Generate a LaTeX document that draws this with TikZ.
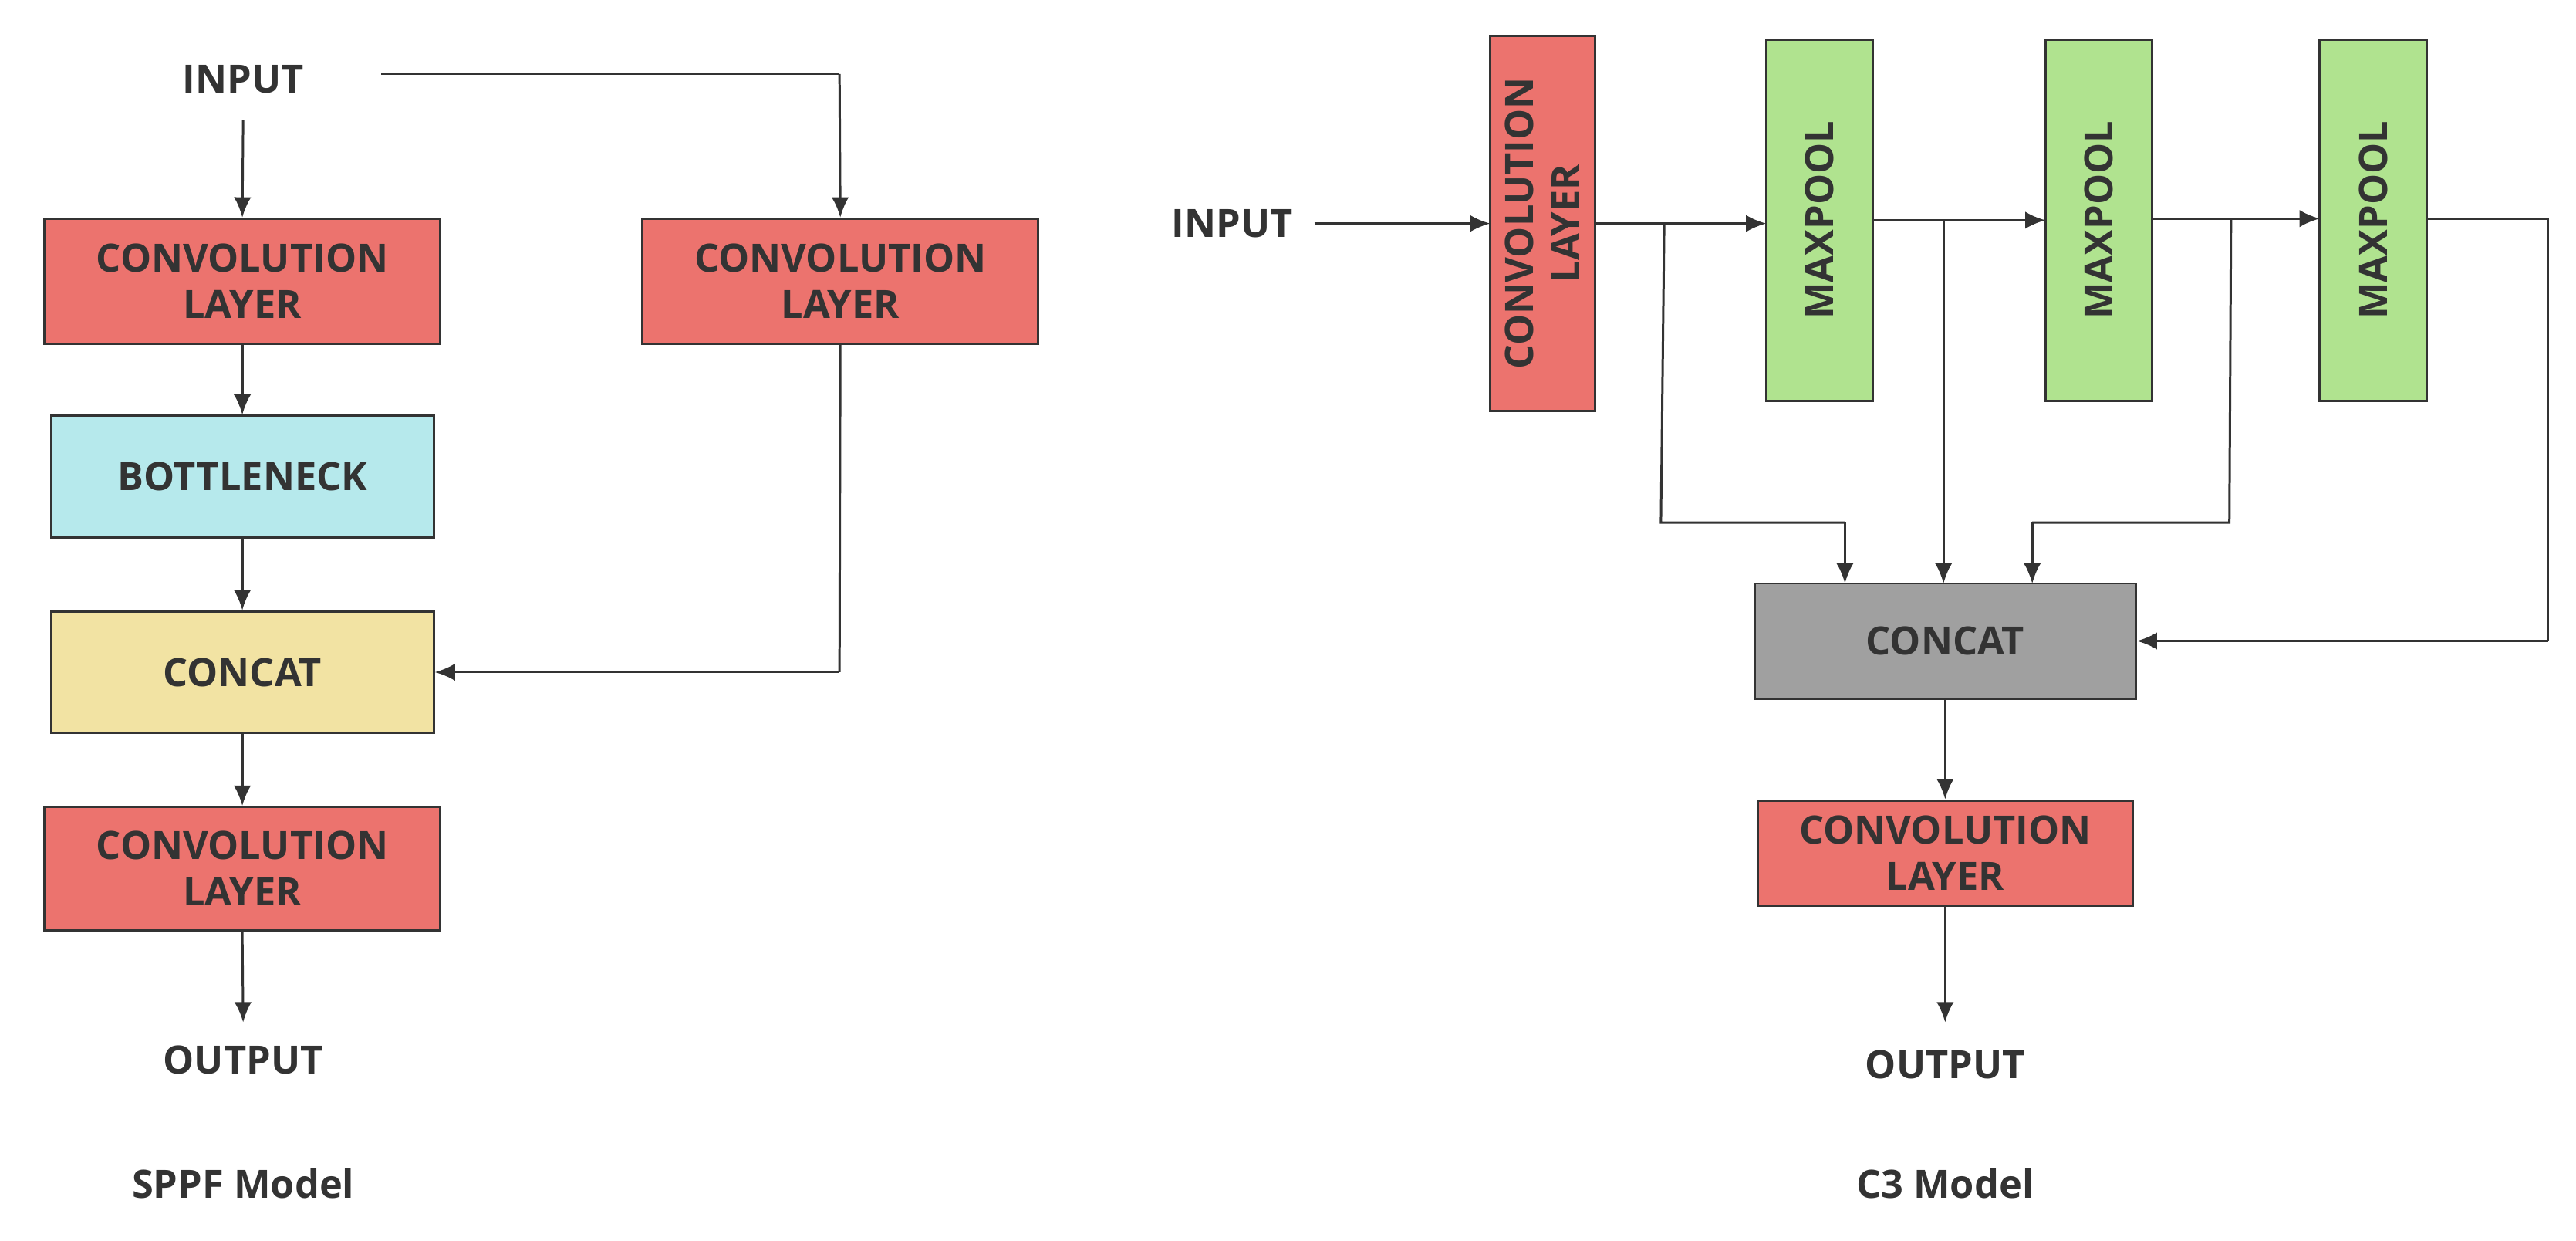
\documentclass[tikz,border=0pt]{standalone}
\usepackage{fontspec}
\setmainfont{Open Sans}
\usetikzlibrary{arrows.meta}
\definecolor{tx}{HTML}{333333}
\definecolor{cred}{HTML}{EC736E}
\definecolor{ccyan}{HTML}{B6E9EC}
\definecolor{cyel}{HTML}{F2E3A3}
\definecolor{cgreen}{HTML}{B0E38F}
\definecolor{cgray}{HTML}{A0A0A0}
\begin{document}
\begin{tikzpicture}[x=0.02cm,y=-0.02cm,
  font=\fontsize{13.5}{16}\selectfont\bfseries, text=tx,
  box/.style={draw=tx,line width=0.8pt,align=center,inner sep=0pt},
  lbl/.style={inner sep=1pt},
  arr/.style={draw=tx,line width=0.8pt,-{Latex[length=7pt,width=6pt]}},
  ln/.style={draw=tx,line width=0.8pt}]
\useasboundingbox (0,0) rectangle (1568,755);
% left
\node[lbl] (in1) at (148,48) {INPUT};
\node[box,fill=cred,minimum width=241\pgflinewidth,text width=0pt] at (-999,-999) {};
\node[box,fill=cred,minimum width=4.82cm,minimum height=1.52cm] (c1) at (147.5,171) {CONVOLUTION\\LAYER};
\node[box,fill=cred,minimum width=4.82cm,minimum height=1.52cm] (c2) at (511.5,171) {CONVOLUTION\\LAYER};
\node[box,fill=ccyan,minimum width=4.66cm,minimum height=1.48cm] (bn) at (147.5,290) {BOTTLENECK};
\node[box,fill=cyel,minimum width=4.66cm,minimum height=1.48cm] (cc1) at (147.5,409) {CONCAT};
\node[box,fill=cred,minimum width=4.82cm,minimum height=1.5cm] (c3) at (147.5,528.5) {CONVOLUTION\\LAYER};
\node[lbl] (out1) at (148,645) {OUTPUT};
\node[lbl] (t1) at (148,720) {SPPF Model};
\coordinate (s1) at (232,45);
\coordinate (e1) at (511,45);
\coordinate (e2) at (511,409);
\draw[arr] (in1.south |- 0,73) -- (c1.north);
\draw[ln] (s1) -- (e1);
\draw[arr] (e1) -- (c2.north);
\draw[arr] (c1) -- (bn);
\draw[arr] (bn) -- (cc1);
\draw[arr] (cc1) -- (c3);
\draw[arr] (c3.south) -- (148,622);
\draw[ln] (c2.south) -- (e2);
\draw[arr] (e2) -- (cc1.east);
% right
\node[lbl] (in2) at (750,136) {INPUT};
\node[box,fill=cred,minimum width=4.56cm,minimum height=1.28cm,rotate=90] (v) at (939,136) {CONVOLUTION\\LAYER};
\node[box,fill=cgreen,minimum width=4.4cm,minimum height=1.3cm,rotate=90] (m1) at (1107.5,134) {MAXPOOL};
\node[box,fill=cgreen,minimum width=4.4cm,minimum height=1.3cm,rotate=90] (m2) at (1277.5,134) {MAXPOOL};
\node[box,fill=cgreen,minimum width=4.4cm,minimum height=1.3cm,rotate=90] (m3) at (1444.5,134) {MAXPOOL};
\node[box,fill=cgray,minimum width=4.64cm,minimum height=1.4cm] (cc2) at (1184,390) {CONCAT};
\node[box,fill=cred,minimum width=4.56cm,minimum height=1.28cm] (c4) at (1184,519) {CONVOLUTION\\LAYER};
\node[lbl] (out2) at (1184,648) {OUTPUT};
\node[lbl] (t2) at (1184,720) {C3 Model};
\coordinate (a0) at (800,136);
\draw[arr] (a0) -- (907,136);
\draw[arr] (971,136) -- (1075,136);
\draw[arr] (1140,134) -- (1245,134);
\draw[arr] (1310,133) -- (1412,133);
\coordinate (b1) at (1013,136); \coordinate (b1a) at (1011,318); \coordinate (b1b) at (1123,318);
\draw[ln] (b1) -- (b1a) -- (b1b); \draw[arr] (b1b) -- (1123,355);
\coordinate (b2) at (1183,134);
\draw[arr] (b2) -- (1183,355);
\coordinate (b3) at (1358,133); \coordinate (b3a) at (1357,318); \coordinate (b3b) at (1237,318);
\draw[ln] (b3) -- (b3a) -- (b3b); \draw[arr] (b3b) -- (1237,355);
\coordinate (b4) at (1551,133); \coordinate (b4a) at (1551,390);
\draw[ln] (1477,133) -- (b4) -- (b4a); \draw[arr] (b4a) -- (cc2.east);
\draw[arr] (cc2.south) -- (c4.north);
\draw[arr] (c4.south) -- (1184,622);
\end{tikzpicture}
\end{document}
